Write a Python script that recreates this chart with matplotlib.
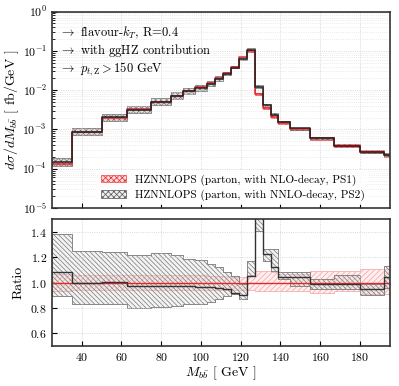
import numpy as np
import matplotlib
matplotlib.use('Agg')
import matplotlib.pyplot as plt
from matplotlib.patches import Patch

plt.rcParams['font.family'] = 'serif'
plt.rcParams['font.serif'] = ['cmr10', 'DejaVu Serif']
plt.rcParams['mathtext.fontset'] = 'cm'
plt.rcParams['axes.formatter.use_mathtext'] = True
plt.rcParams['hatch.linewidth'] = 0.5

# bin edges in GeV
edges = [25, 35, 50, 63, 75, 85, 91, 97, 103, 107, 111, 115, 119, 123, 127,
         131, 135, 139, 145, 155, 167, 180, 192, 195]

# PS1 (NLO-decay) cross section, fb/GeV
ps1 = [1.35e-4, 8.8e-4, 2.0e-3, 3.3e-3, 5.1e-3, 7.2e-3, 9.6e-3, 1.17e-2,
       1.51e-2, 2.02e-2, 2.71e-2, 3.98e-2, 6.9e-2, 1.02e-1, 7.9e-3, 3.48e-3,
       2.13e-3, 1.5e-3, 1.02e-3, 6.0e-4, 3.9e-4, 2.74e-4, 2.19e-4]
ps1_lo = [0.935, 0.94, 0.94, 0.94, 0.94, 0.94, 0.94, 0.94, 0.945, 0.945, 0.945,
          0.945, 0.945, 0.94, 0.93, 0.93, 0.93, 0.935, 0.935, 0.92, 0.935, 0.907, 0.907]
ps1_hi = [1.065, 1.06, 1.06, 1.06, 1.06, 1.06, 1.06, 1.06, 1.055, 1.055, 1.05,
          1.045, 1.04, 1.06, 1.09, 1.09, 1.08, 1.07, 1.065, 1.09, 1.095, 1.11, 1.11]

# PS2 (NNLO-decay) relative to PS1
ratio = [1.08, 1.00, 1.008, 0.973, 0.97, 0.975, 0.97, 0.965, 0.965, 0.96, 0.947,
         0.92, 0.90, 1.05, 1.56, 1.224, 1.126, 1.047, 1.047, 0.99, 0.987, 0.947, 1.04]
ps2_lo = [0.89, 0.834, 0.834, 0.80, 0.81, 0.815, 0.83, 0.83, 0.85, 0.868, 0.894,
          0.907, 0.868, 1.05, 1.41, 1.17, 1.09, 1.026, 0.973, 0.947, 0.947, 0.90, 0.96]
ps2_hi = [1.38, 1.25, 1.245, 1.22, 1.237, 1.215, 1.184, 1.18, 1.145, 1.12, 1.08,
          1.05, 0.987, 1.17, 1.69, 1.263, 1.263, 1.08, 1.087, 1.026, 1.058, 0.99, 1.13]

labels = ['HZNNLOPS (parton, with NLO-decay, PS1)',
          'HZNNLOPS (parton, with NNLO-decay, PS2)']


def steps(v):
    x = np.repeat(edges, 2)[1:-1]
    y = np.repeat(v, 2)
    return x, y


ps1 = np.array(ps1)
ps2 = ps1 * np.array(ratio)

fig = plt.figure(figsize=(3.99, 3.86), dpi=100)
ax = fig.add_axes([0.130, 0.461, 0.847, 0.509])
rx = fig.add_axes([0.130, 0.104, 0.847, 0.328])

red = '#e8262a'
grey = '#555555'

# top panel
x, y = steps(ps1 * np.array(ps1_lo))
_, y2 = steps(ps1 * np.array(ps1_hi))
ax.fill_between(x, y, y2, facecolor=(1, 0.6, 0.6, 0.35), edgecolor=red,
                hatch='xxxxxx', linewidth=0.4)
x, y = steps(ps1 * np.array(ps2_lo))
_, y2 = steps(ps1 * np.array(ps2_hi))
ax.fill_between(x, y, y2, facecolor=(0.85, 0.85, 0.85, 0.4), edgecolor=grey,
                hatch='xxxxxx', linewidth=0.5, alpha=0.8)
ax.plot(*steps(ps1), color=red, lw=1.1)
ax.plot(*steps(ps2), color='#222222', lw=1.1)

ax.set_yscale('log')
ax.set_ylim(1e-5, 1)
ax.set_xlim(25, 195)
ax.set_ylabel(r'$d\sigma/dM_{b\bar{b}}$ [ fb/GeV ]', fontsize=10, labelpad=1)
ax.set_xticklabels([])
ax.grid(True, which='major', ls=':', color='#cccccc', lw=0.6)
ax.grid(True, which='minor', axis='y', ls=':', color='#dddddd', lw=0.5)

ax.text(0.02, 0.875, r'$\rightarrow$ flavour-$k_T$, R=0.4', transform=ax.transAxes, fontsize=9)
ax.text(0.02, 0.785, r'$\rightarrow$ with ggHZ contribution', transform=ax.transAxes, fontsize=9)
ax.text(0.02, 0.69, r'$\rightarrow$ $p_{t,\mathrm{Z}} > 150$ GeV', transform=ax.transAxes, fontsize=9)

handles = [Patch(facecolor=(1, 0.6, 0.6, 0.35), edgecolor=red, hatch='xxxxxx', lw=0.4),
           Patch(facecolor=(0.85, 0.85, 0.85, 0.4), edgecolor=grey, hatch='xxxxxx', lw=0.5)]
ax.legend(handles, labels, loc='lower right', fontsize=8.1, frameon=True,
          framealpha=0.8, edgecolor='none', fancybox=False,
          bbox_to_anchor=(0.955, -0.015), handlelength=2.2, labelspacing=0.35)

# ratio panel
x, y = steps(ps1_lo)
_, y2 = steps(ps1_hi)
rx.fill_between(x, y, y2, facecolor=(1, 0.85, 0.85, 0.4), edgecolor='#f4a0a0',
                hatch='//////', linewidth=0.5)
x, y = steps(ps2_lo)
_, y2 = steps(ps2_hi)
rx.fill_between(x, y, y2, facecolor=(0.85, 0.85, 0.85, 0.3), edgecolor='#777777',
                hatch='\\\\\\\\\\\\\\', linewidth=0.6)
rx.axhline(1.0, color=red, lw=1.0)
rx.plot(*steps(ratio), color='#333333', lw=1.0)

rx.set_xlim(25, 195)
rx.set_ylim(0.5, 1.5)
rx.set_yticks([0.6, 0.8, 1.0, 1.2, 1.4])
rx.set_xticks([40, 60, 80, 100, 120, 140, 160, 180])
rx.set_ylabel('Ratio', fontsize=10)
rx.set_xlabel(r'$M_{b\bar{b}}$ [ GeV ]', fontsize=10, labelpad=1)
rx.grid(True, ls=':', color='#cccccc', lw=0.6)

for a in (ax, rx):
    a.tick_params(direction='in', labelsize=8.5, which='both')
    for s in a.spines.values():
        s.set_color('#333333')
        s.set_linewidth(1.2)

fig.savefig('out.png', dpi=100)
